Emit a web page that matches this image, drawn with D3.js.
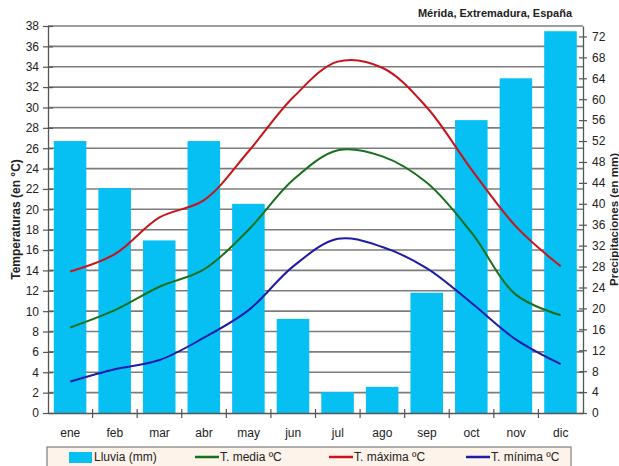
<!DOCTYPE html>
<html>
<head>
<meta charset="utf-8">
<script src="https://cdn.jsdelivr.net/npm/d3@7/dist/d3.min.js"></script>
<style>
  html, body { margin: 0; padding: 0; background: #fff; }
  svg { display: block; font-family: "Liberation Sans", Arial, sans-serif; }
</style>
</head>
<body>
<svg id="chart" width="619" height="466"></svg>
<script>
// Climograma de Mérida (Extremadura)
const months = ["ene","feb","mar","abr","may","jun","jul","ago","sep","oct","nov","dic"];
const rain   = [52, 43, 33, 52, 40, 18, 4, 5, 23, 56, 64, 73];           // mm
const tMax   = [13.9, 15.6, 19.2, 20.9, 25.7, 31.0, 34.5, 33.9, 30.0, 23.9, 18.3, 14.4];
const tMean  = [8.4, 10.1, 12.4, 14.1, 18.0, 22.9, 25.8, 25.2, 22.6, 17.7, 11.6, 9.6];
const tMin   = [3.1, 4.3, 5.2, 7.4, 10.1, 14.4, 17.1, 16.3, 14.2, 10.8, 7.2, 4.8];
const tempTicks = d3.range(0, 39, 2);
const rainTicks = d3.range(0, 73, 4);

const svg = d3.select("#chart");
const plotLeft = 48, plotRight = 583, plotTop = 26, plotBottom = 413;

const x  = d3.scaleBand().domain(months).range([plotLeft, plotRight]).padding(0);
const yT = d3.scaleLinear().domain([0, 38]).range([plotBottom, plotTop]);
const yP = d3.scaleLinear().domain([0, 74]).range([plotBottom, plotTop]);
const bw = x.bandwidth();

// horizontal grid
svg.append("g").selectAll("line").data(tempTicks.filter(d => d > 0)).join("line")
  .attr("x1", plotLeft).attr("x2", plotRight)
  .attr("y1", d => yT(d)).attr("y2", d => yT(d))
  .attr("stroke", "#7c7c7c").attr("stroke-width", 1.6);

// rainfall bars
svg.append("g").selectAll("rect").data(months).join("rect")
  .attr("x", (m) => x(m) + bw * 0.13)
  .attr("width", bw * 0.73)
  .attr("y", (m, i) => yP(rain[i]))
  .attr("height", (m, i) => yP(0) - yP(rain[i]))
  .attr("fill", "#06bff3");

// temperature lines
const line = d3.line()
  .x((d, i) => x(months[i]) + bw / 2)
  .y(d => yT(d))
  .curve(d3.curveCatmullRom.alpha(0.5));
[[tMax, "#c8141a"], [tMean, "#17701c"], [tMin, "#1c1ca8"]].forEach(([s, c]) => {
  svg.append("path").datum(s).attr("d", line)
    .attr("fill", "none").attr("stroke", c).attr("stroke-width", 2);
});

// axes
const axisColor = "#555";
const leftAxis = d3.axisLeft(yT).tickValues(tempTicks).tickSizeInner(5).tickSizeOuter(0).tickPadding(4);
const gL = svg.append("g").attr("transform", `translate(${plotLeft},0)`).call(leftAxis);
const rightAxis = d3.axisRight(yP).tickValues(rainTicks).tickSizeInner(4).tickSizeOuter(0).tickPadding(5);
const gR = svg.append("g").attr("transform", `translate(${plotRight},0)`).call(rightAxis);
const bottomAxis = d3.axisBottom(x).tickSize(0).tickPadding(15);
const gB = svg.append("g").attr("transform", `translate(0,${plotBottom})`).call(bottomAxis);

[gL, gR, gB].forEach(g => {
  g.select(".domain").attr("stroke", axisColor).attr("stroke-width", 1.3);
  g.selectAll(".tick line").attr("stroke", axisColor).attr("stroke-width", 1.2);
  g.selectAll("text").attr("fill", "#222").attr("font-size", 12)
    .attr("font-family", "'Liberation Sans', Arial, sans-serif");
});
// ticks crossing the vertical axes
gL.selectAll(".tick line").attr("x1", 5);
gR.selectAll(".tick line").attr("x1", -4);

// category boundary ticks
svg.append("g").selectAll("line").data(months.slice(1)).join("line")
  .attr("x1", m => x(m)).attr("x2", m => x(m))
  .attr("y1", plotBottom - 4).attr("y2", plotBottom + 5)
  .attr("stroke", axisColor).attr("stroke-width", 1.2);

// axis titles
svg.append("text")
  .attr("transform", `translate(20,${(plotTop + plotBottom) / 2}) rotate(-90)`)
  .attr("text-anchor", "middle").attr("font-size", 12).attr("font-weight", "bold")
  .attr("fill", "#222").text("Temperaturas (en °C)");
svg.append("text")
  .attr("transform", `translate(618,${(plotTop + plotBottom) / 2}) rotate(-90)`)
  .attr("text-anchor", "middle").attr("font-size", 11.5).attr("font-weight", "bold")
  .attr("fill", "#222").text("Precipitaciones (en mm)");

// title
svg.append("text").attr("x", 572).attr("y", 17)
  .attr("text-anchor", "end").attr("font-size", 11).attr("font-weight", "bold")
  .attr("fill", "#222").text("Mérida, Extremadura, España");

// legend
const lg = svg.append("g");
lg.append("rect").attr("x", 47).attr("y", 447).attr("width", 524).attr("height", 30)
  .attr("fill", "#fdf3ea").attr("stroke", "#666").attr("stroke-width", 1);
const legendItems = [
  { label: "Lluvia (mm)",   type: "bar",  color: "#06bff3", x: 69 },
  { label: "T. media ºC",   type: "line", color: "#17701c", x: 195 },
  { label: "T. máxima ºC",  type: "line", color: "#c8141a", x: 329 },
  { label: "T. mínima ºC",  type: "line", color: "#1c1ca8", x: 466 }
];
const ly = 457;
legendItems.forEach(it => {
  if (it.type === "bar") {
    lg.append("rect").attr("x", it.x).attr("y", ly - 5).attr("width", 23).attr("height", 11).attr("fill", it.color);
  } else {
    lg.append("line").attr("x1", it.x).attr("x2", it.x + 24).attr("y1", ly).attr("y2", ly)
      .attr("stroke", it.color).attr("stroke-width", 2.5);
  }
  lg.append("text").attr("x", it.x + 25).attr("y", ly + 4).attr("font-size", 12)
    .attr("fill", "#222").text(it.label);
});
</script>
</body>
</html>
